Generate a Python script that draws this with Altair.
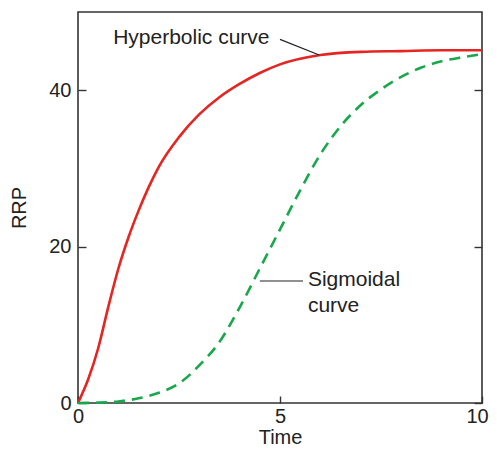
import altair as alt
import pandas as pd

# Hyperbolic curve (red, solid)
hyp_x = [0, 0.25, 0.5, 0.75, 1, 1.25, 1.5, 1.75, 2, 2.5, 3, 3.5, 4, 4.5, 5, 6, 7, 8, 9, 10]
hyp_y = [0, 3.0, 7.0, 12.3, 17.2, 21.2, 24.6, 27.6, 30.2, 34.0, 36.9, 39.1, 40.8, 42.2, 43.3, 44.5, 44.9, 45.0, 45.1, 45.1]

# Sigmoidal curve (green, dashed)
sig_x = [0, 0.5, 1, 1.5, 2, 2.5, 3, 3.5, 4, 4.5, 5, 5.5, 6, 6.5, 7, 7.5, 8, 8.5, 9, 9.5, 10]
sig_y = [0, 0.05, 0.2, 0.6, 1.3, 2.5, 4.8, 7.8, 12.2, 17.2, 22.2, 27.2, 31.8, 35.4, 38.1, 40.1, 41.7, 42.9, 43.7, 44.2, 44.6]

x_ticks = [0, 5, 10]
y_ticks = [0, 20, 40]

# annotation labels and leader lines (data coordinates)
label_text = ["Hyperbolic curve", "Sigmoidal", "curve"]
label_x = [0.87, 5.69, 5.69]
label_y = [45.9, 14.9, 11.7]
leader_x = [5.0, 4.5]
leader_x2 = [5.97, 5.57]
leader_y = [46.5, 15.6]
leader_y2 = [44.5, 15.6]

FONT = "Liberation Sans"

hyp = pd.DataFrame({"t": hyp_x, "v": hyp_y})
sig = pd.DataFrame({"t": sig_x, "v": sig_y})
labels = pd.DataFrame({"t": label_x, "v": label_y, "txt": label_text})
leaders = pd.DataFrame({"t": leader_x, "t2": leader_x2, "v": leader_y, "v2": leader_y2})

xscale = alt.Scale(domain=[0, 10], nice=False, zero=False)
yscale = alt.Scale(domain=[0, 50], nice=False, zero=False)

x_axis = alt.Axis(
    orient="bottom", values=x_ticks, offset=-7, tickSize=7, domain=False,
    grid=False, labelPadding=3, titlePadding=1, labelFlush=False,
    labelOffset={"condition": {"test": "datum.value == 10", "value": -5}, "value": 0},
)


def xenc(field):
    return alt.X(field, type="quantitative", scale=xscale, title="Time", axis=x_axis)


red = alt.Chart(hyp).mark_line(color="#e52521", strokeWidth=2.6, interpolate="monotone").encode(
    x=xenc("t"),
    y=alt.Y("v:Q", scale=yscale, title="RRP",
            axis=alt.Axis(orient="left", values=y_ticks, offset=-8, tickSize=8, domain=False,
                          grid=False, labelPadding=7, titlePadding=19, labelFlush=False)),
)

green = alt.Chart(sig).mark_line(color="#17a84b", strokeWidth=2.6, strokeDash=[11, 7],
                                 interpolate="monotone").encode(
    x=xenc("t"),
    y=alt.Y("v:Q", scale=yscale,
            axis=alt.Axis(orient="right", values=y_ticks, offset=-8, tickSize=8, domain=False,
                          grid=False, labels=False, title=None)),
)

lead = alt.Chart(leaders).mark_rule(color="#222", strokeWidth=1.2).encode(
    x=xenc("t"),
    x2="t2:Q",
    y=alt.Y("v:Q", scale=yscale, axis=None),
    y2="v2:Q",
)

txt = alt.Chart(labels).mark_text(align="left", baseline="alphabetic", fontSize=21, font=FONT,
                                  color="#222").encode(
    x=xenc("t"),
    y=alt.Y("v:Q", scale=yscale, axis=None),
    text="txt:N",
)

chart = alt.layer(red, green, lead, txt).properties(
    width=404, height=391,
    autosize=alt.AutoSizeParams(type="none"),
    padding={"left": 70, "top": 4, "right": 7, "bottom": 41},
).configure_view(
    stroke="#333", strokeWidth=1.6
).configure_axis(
    labelFont=FONT, titleFont=FONT, labelFontSize=20, titleFontSize=20,
    labelColor="#222", titleColor="#222", tickColor="#333", tickWidth=1.4,
    titleFontWeight="normal"
)

chart.save("out.html", embed_options={"renderer": "svg", "actions": False})
